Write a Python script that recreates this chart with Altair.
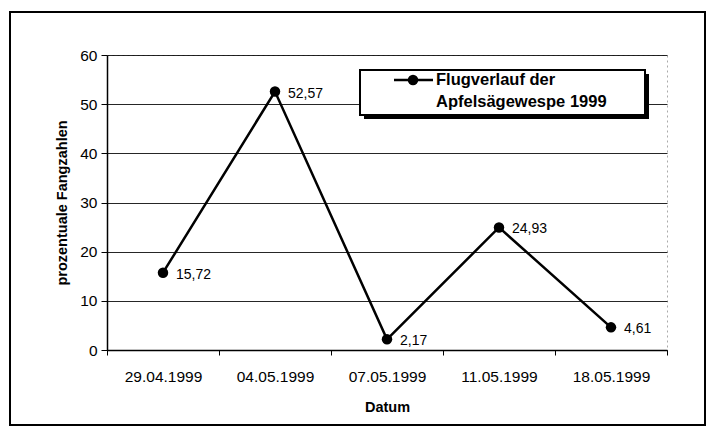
import altair as alt
import pandas as pd

dates = ["29.04.1999", "04.05.1999", "07.05.1999", "11.05.1999", "18.05.1999"]
values = [15.72, 52.57, 2.17, 24.93, 4.61]
series_lines = ["Flugverlauf der", "Apfelsägewespe 1999"]
y_ticks = [0, 10, 20, 30, 40, 50, 60]

df = pd.DataFrame({"Datum": dates, "Wert": values})

FONT = "Liberation Sans"
W, H = 560, 295

x_enc = alt.X(
    "Datum:N", sort=dates,
    scale=alt.Scale(type="band", paddingInner=0, paddingOuter=0),
    axis=alt.Axis(title="Datum", labelAngle=0, tickBand="extent", grid=False,
                  domainColor="black", domainWidth=1.5, tickColor="black", tickSize=5,
                  labelPadding=14, labelFontSize=15.5, labelFont=FONT, labelColor="black",
                  titleFont=FONT, titleFontSize=14.5, titleFontWeight="bold",
                  titlePadding=16, titleColor="black"),
)
y_enc = alt.Y(
    "Wert:Q", scale=alt.Scale(domain=[0, 60], nice=False),
    axis=alt.Axis(title="prozentuale Fangzahlen", values=y_ticks, grid=True,
                  gridColor="black", gridOpacity=0.85, gridWidth=1,
                  domainColor="black", domainWidth=1.5, tickColor="black", tickSize=6,
                  labelPadding=4, labelFontSize=15.5, labelFont=FONT, labelColor="black",
                  titleFont=FONT, titleFontSize=14.5, titleFontWeight="bold",
                  titlePadding=10, titleColor="black"),
)

base = alt.Chart(df)
line = base.mark_line(color="black", strokeWidth=2.5).encode(x=x_enc, y=y_enc)
pts = base.mark_point(filled=True, color="black", size=110, opacity=1).encode(x=x_enc, y=y_enc)
labels = base.transform_calculate(
    lab="replace(format(datum.Wert, '.2f'), '.', ',')"
).mark_text(align="left", dx=13, dy=2, font=FONT, fontSize=14, color="black").encode(
    x=x_enc, y=y_enc, text="lab:N")

one = alt.Data(values=[{"a": 1}])
frame = alt.Chart(one).mark_rect(fill=None, stroke="black", strokeWidth=2, clip=False).encode(
    x=alt.value(-97), x2=alt.value(598), y=alt.value(-43), y2=alt.value(370))
shadow = alt.Chart(one).mark_rect(fill="black", clip=False).encode(
    x=alt.value(257), x2=alt.value(542), y=alt.value(19), y2=alt.value(64))
box = alt.Chart(one).mark_rect(fill="white", stroke="black", strokeWidth=2, clip=False).encode(
    x=alt.value(253), x2=alt.value(538), y=alt.value(15), y2=alt.value(60))
leg_line = alt.Chart(one).mark_rule(color="black", strokeWidth=2.5).encode(
    x=alt.value(287), x2=alt.value(326), y=alt.value(25))
leg_pt = alt.Chart(one).mark_point(filled=True, color="black", size=110, opacity=1).encode(
    x=alt.value(306), y=alt.value(25))
leg_t1 = alt.Chart(one).mark_text(align="left", baseline="middle", font=FONT, fontSize=16.5,
                                  fontWeight="bold", color="black", text=series_lines[0]).encode(
    x=alt.value(329), y=alt.value(25))
leg_t2 = alt.Chart(one).mark_text(align="left", baseline="middle", font=FONT, fontSize=16.5,
                                  fontWeight="bold", color="black", text=series_lines[1]).encode(
    x=alt.value(329), y=alt.value(47))

chart = alt.layer(frame, line, pts, labels, shadow, box, leg_line, leg_pt, leg_t1, leg_t2).properties(
    width=W, height=H,
    autosize=alt.AutoSizeParams(type="none"),
    padding={"left": 99, "top": 47, "right": 40, "bottom": 85},
    background="white",
).configure_view(stroke="#aaaaaa", strokeDash=[2, 3], strokeWidth=1)

chart.save("out.html", embed_options={"renderer": "svg", "actions": False})
